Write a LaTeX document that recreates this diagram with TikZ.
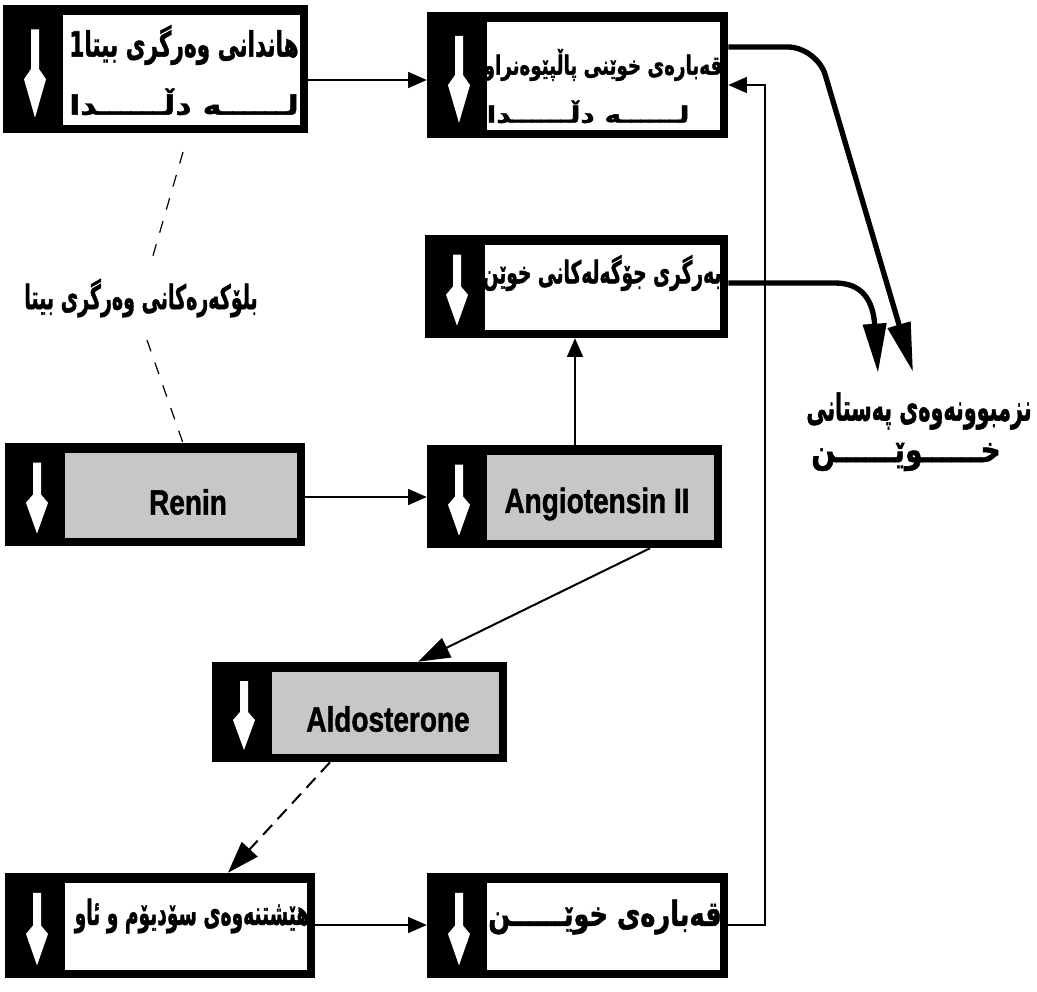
\documentclass[tikz,border=0pt]{standalone}
\usepackage{fontspec}
\setmainfont{Liberation Sans}[BoldFeatures={FakeBold=1.5}]
\newfontfamily\kf[Script=Arabic,BoldFeatures={FakeBold=1.5}]{DejaVu Sans}
\TeXXeTstate=1
\usetikzlibrary{arrows.meta,calc,fit}
\newcommand\kw[3]{\resizebox*{#1pt}{#2pt}{\kf\bfseries #3}}
\newcommand\mybox[6]{%
  \coordinate (#1-nw) at (#2,#3);
  \coordinate (#1-se) at (#4,#5);
  \node[frame, fit=(#1-nw)(#1-se)] (#1) {};
  \fill[#6] ($(#1-nw)+(60,10)$) rectangle ($(#1-se)+(-8,-8)$);
  \pgfmathsetmacro\myBH{#5-#3}
  \pgfmathsetmacro\myAX{#2+32}
  \fill[white] (\myAX-4,#3+0.19*\myBH) -- (\myAX+4,#3+0.19*\myBH) -- (\myAX+4,#3+0.5*\myBH)
     -- (\myAX+11,#3+0.58*\myBH) -- (\myAX,#3+0.88*\myBH) -- (\myAX-11,#3+0.58*\myBH)
     -- (\myAX-4,#3+0.5*\myBH) -- cycle;
}
\tikzset{
  frame/.style={fill=black, inner sep=0pt, draw=none},
  conn/.style={line width=1.2pt, -{Triangle[length=14pt,width=12pt]}},
  diag/.style={line width=1.5pt, -{Triangle[length=24pt,width=16pt]}},
  fat/.style={line width=4pt, -{Triangle[length=37pt,width=17pt]}},
  dsh/.style={line width=0.9pt, dash pattern=on 9pt off 9pt},
  lat/.style={font=\bfseries\fontsize{21}{24}\selectfont, inner sep=0pt, yscale=1.25},
  kt/.style={inner sep=0pt},
}
\begin{document}
\begin{tikzpicture}[x=0.75pt, y=-0.75pt]
\useasboundingbox (0,0) rectangle (1037,991);
\fill[white] (0,0) rectangle (1037,991);
% boxes
\mybox{b1}{3}{5}{308}{133}{white}
\mybox{b2}{427}{12}{728}{138}{white}
\mybox{b3}{425}{235}{728}{338}{white}
\mybox{b4}{5}{443}{305}{546}{black!22}
\mybox{b5}{427}{445}{722}{548}{black!22}
\mybox{b6}{212}{662}{507}{762}{black!22}
\mybox{b7}{5}{873}{315}{978}{white}
\mybox{b8}{427}{873}{728}{978}{white}
% texts
\node[kt] (t1a) at (184,45) {\kw{172}{30}{\beginR هاندانی وەرگری بیتا1\endR}};
\node[kt] (t1b) at (184,102) {\kw{172}{20}{\beginR لــــــە دڵــــــدا\endR}};
\node[kt] (t2a) at (603,65) {\kw{179}{24}{\beginR قەبارەی خوێنی پاڵپێوەنراو\endR}};
\node[kt] (t2b) at (588,112) {\kw{152}{17}{\beginR لــــــە دڵــــــدا\endR}};
\node[kt] (t3) at (602,273) {\kw{179}{27}{\beginR بەرگری جۆگەلەکانی خوێن\endR}};
\node[kt] (blk) at (141,298) {\kw{175}{29}{\beginR بلۆکەرەکانی وەرگری بیتا\endR}};
\node[kt] (lbl) at (919,411) {\kw{169}{28}{\beginR نزمبوونەوەی پەستانی\endR}};
\node[kt] (lbl2) at (906,457) {\kw{142}{21}{\beginR خــــــوێــــــن\endR}};
\node[kt] (t7) at (192,916) {\kw{176}{26}{\beginR هێشتنەوەی سۆدیۆم و ئاو\endR}};
\node[kt] (t8) at (605,917) {\kw{175}{26}{\beginR قەبارەی خوێــــــن\endR}};
\node[lat] (tr) at (188,502) {Renin};
\node[lat] (ta) at (597,504) {Angiotensin II};
\node[lat] (tl) at (388,719) {Aldosterone};
% connectors
\draw[conn] (b1.east |- 0,80) -- (b2.west |- 0,80);
\draw[conn] (b4.east |- 0,497) -- (b5.west |- 0,497);
\draw[conn] (b7.east |- 0,925) -- (b8.west |- 0,925);
\draw[conn] (575,0 |- b5.north) -- (575,0 |- b3.south);
\coordinate (lp) at (765,85);
\draw[conn] (b8.east |- 0,925) -| (lp) -- (b2.east |- lp);
\draw[diag] (650,0 |- b5.south) -- (418,0 |- b6.north);
\draw[diag, dash pattern=on 10pt off 6pt] (330,0 |- b6.south) -- (228,0 |- b7.north);
\coordinate (d1) at (183,152);
\coordinate (d2) at (150,266);
\coordinate (d3) at (147,340);
\coordinate (d4) at (183,443);
\draw[dsh] (d1) -- (d2);
\draw[dsh] (d3) -- (d4);
\coordinate (e1) at (913,372);
\coordinate (e2) at (878,373);
\draw[fat, rounded corners=22pt] (b2.east |- 0,47) -- (817,47) -- (e1);
\draw[fat] (b3.east |- 0,283) -- (835,283) .. controls (862,283) and (873,300) .. (e2);
\end{tikzpicture}
\end{document}
